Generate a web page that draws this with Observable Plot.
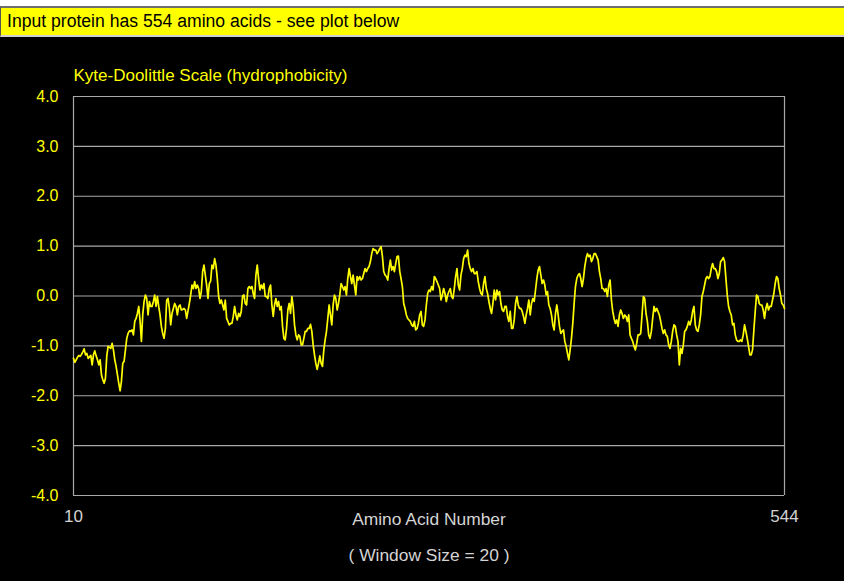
<!DOCTYPE html>
<html>
<head>
<meta charset="utf-8">
<script src="https://cdn.jsdelivr.net/npm/d3@7"></script>
<script src="https://cdn.jsdelivr.net/npm/@observablehq/plot@0.6"></script>
<style>
  html, body { margin: 0; padding: 0; background: #000; width: 844px; height: 581px; overflow: hidden; }
  #top { position: absolute; left: 0; top: 0; width: 844px; height: 37px; background: #fff; }
  #banner { position: absolute; left: 0; top: 6px; width: 843px; height: 27px;
    background: #ffff00; border-top: 2px solid #6e6e6e; border-bottom: 2px solid #cfcfcf; border-left: 1px solid #555;
    font-family: "Liberation Sans", Arial, sans-serif; font-size: 17.6px; line-height: 27px; color: #000;
    padding-left: 6px; box-sizing: content-box; white-space: nowrap; }
  #chart { position: absolute; left: 0; top: 37px; }
</style>
</head>
<body>
<div id="top"><div id="banner"></div></div>
<div id="chart"></div>
<script>
const proteinLength = 554;
const bannerText = "Input protein has " + proteinLength + " amino acids - see plot below";
const chartTitle = "Kyte-Doolittle Scale (hydrophobicity)";
const xTitle = "Amino Acid Number";
const windowNote = "( Window Size = 20 )";
const xTicks = [10, 544];
const yTicks = [-4, -3, -2, -1, 0, 1, 2, 3, 4];
const startResidue = 10;
const hydro = [
-1.25,-1.33,-1.28,-1.23,-1.19,-1.21,-1.17,-1.12,-1.06,-1.18,
-1.15,-1.25,-1.22,-1.19,-1.38,-1.18,-1.10,-1.20,-1.28,-1.38,
-1.28,-1.58,-1.68,-1.75,-1.65,-1.20,-1.01,-1.03,-1.05,-0.95,
-1.08,-1.28,-1.41,-1.58,-1.75,-1.90,-1.71,-1.35,-1.31,-1.08,
-0.85,-0.75,-0.70,-0.71,-0.68,-0.78,-0.51,-0.45,-0.35,-0.21,
-0.50,-0.91,-0.38,-0.11,0.02,-0.05,-0.38,-0.11,-0.21,-0.21,
-0.11,0.02,-0.21,-0.01,-0.21,-0.38,-0.61,-0.75,-0.85,-0.65,
-0.08,-0.05,-0.25,-0.58,-0.35,-0.25,-0.15,-0.21,-0.38,-0.21,
-0.18,-0.28,-0.27,-0.25,-0.28,-0.45,-0.30,-0.15,0.02,0.22,
0.15,0.29,0.15,0.22,0.15,-0.05,0.09,0.49,0.62,0.42,
0.22,-0.05,0.25,0.30,0.62,0.55,0.75,0.62,0.35,-0.01,
-0.15,-0.08,-0.18,-0.28,-0.08,-0.45,-0.51,-0.58,-0.55,-0.55,
-0.41,-0.21,-0.38,-0.48,-0.35,-0.41,-0.31,0.00,0.02,-0.15,
-0.18,0.15,0.19,0.15,0.19,0.05,-0.05,0.42,0.62,0.35,
0.12,0.22,0.15,0.25,-0.01,-0.01,-0.05,0.15,0.22,-0.18,
-0.41,-0.18,-0.05,-0.21,-0.11,-0.28,-0.21,-0.61,-0.85,-0.88,
-0.65,-0.28,-0.15,-0.35,-0.01,-0.21,-0.58,-0.78,-0.88,-0.78,
-0.81,-0.98,-0.98,-0.85,-0.71,-0.71,-0.65,-0.65,-0.57,-0.71,
-0.98,-1.18,-1.35,-1.47,-1.35,-1.20,-1.35,-1.41,-1.08,-0.88,
-0.71,-0.45,-0.18,-0.38,-0.58,-0.18,0.02,-0.05,-0.28,-0.15,
0.02,0.25,0.19,0.12,0.19,0.02,0.35,0.55,0.39,0.25,
0.42,0.22,0.02,0.39,0.32,0.39,0.32,0.35,0.45,0.55,
0.49,0.55,0.59,0.69,0.85,0.95,0.92,0.92,0.85,0.89,
0.95,0.99,0.80,0.49,0.42,0.39,0.32,0.55,0.72,0.52,
0.59,0.49,0.65,0.79,0.80,0.50,0.35,0.19,-0.15,-0.25,
-0.38,-0.45,-0.48,-0.51,-0.58,-0.61,-0.51,-0.68,-0.65,-0.55,
-0.38,-0.31,-0.58,-0.61,-0.48,-0.18,0.05,0.12,0.09,0.19,
0.12,0.39,0.35,0.29,0.22,0.15,-0.08,0.02,0.15,0.05,
-0.11,0.02,0.09,0.15,-0.01,-0.05,0.15,0.39,0.55,0.22,
0.12,0.42,0.55,0.75,0.82,0.79,0.92,0.65,0.55,0.49,
0.55,0.45,0.45,0.49,0.29,0.15,0.05,0.02,0.25,0.39,
0.15,0.05,-0.11,-0.25,-0.35,-0.15,0.12,-0.08,0.12,0.02,
0.09,-0.15,-0.28,-0.31,-0.21,-0.21,-0.41,-0.51,-0.31,-0.65,
-0.65,-0.48,-0.15,-0.01,-0.18,-0.25,-0.25,-0.31,-0.41,-0.55,
-0.38,-0.25,-0.08,-0.38,-0.15,-0.05,-0.11,0.12,0.35,0.52,
0.59,0.42,0.25,0.32,0.22,0.02,0.09,-0.18,-0.25,-0.38,
-0.58,-0.68,-0.35,-0.18,-0.38,-0.61,-0.75,-0.71,-0.68,-0.91,
-1.01,-1.15,-1.28,-1.08,-0.85,-0.55,-0.15,0.19,0.35,0.42,
0.45,0.35,0.19,0.35,0.59,0.75,0.85,0.79,0.82,0.69,
0.75,0.85,0.85,0.79,0.72,0.49,0.35,0.15,0.15,0.09,
0.15,-0.01,0.22,0.32,-0.08,-0.31,-0.45,-0.55,-0.48,-0.61,
-0.38,-0.28,-0.35,-0.45,-0.38,-0.41,-0.51,-0.38,-0.78,-0.85,
-0.91,-1.01,-1.08,-0.95,-0.78,-0.78,-0.75,-0.38,-0.01,-0.05,
-0.35,-0.51,-0.78,-0.85,-0.71,-0.45,-0.21,-0.31,-0.25,-0.31,
-0.38,-0.51,-0.65,-0.75,-0.68,-0.78,-0.81,-0.98,-1.05,-0.91,
-0.71,-0.58,-0.61,-0.78,-0.91,-1.38,-1.05,-1.15,-0.98,-0.71,
-0.68,-0.61,-0.51,-0.58,-0.48,-0.31,-0.21,-0.58,-0.68,-0.71,
-0.58,-0.38,-0.01,0.09,0.22,0.35,0.39,0.35,0.39,0.55,
0.65,0.55,0.55,0.49,0.35,0.45,0.69,0.72,0.77,0.69,
0.35,0.02,-0.21,-0.31,-0.38,-0.58,-0.55,-0.78,-0.88,-0.91,
-0.91,-0.88,-0.91,-0.78,-0.58,-0.71,-0.85,-1.01,-1.18,-1.18,
-1.08,-0.68,-0.31,0.02,-0.01,-0.15,-0.18,-0.18,-0.28,-0.45,
-0.25,-0.15,-0.28,-0.21,-0.21,-0.08,0.05,0.25,0.39,0.35,
0.15,0.02,-0.15,-0.18,-0.25
];

document.getElementById("banner").textContent = bannerText;

const data = hydro.map((v, i) => ({residue: startResidue + i, value: v}));
const gridColor = "#a8a8a8";
const yellow = "#ffff00";
const labelGray = "#d4d4d4";

const chart = Plot.plot({
  width: 844,
  height: 544,
  marginTop: 59,
  marginBottom: 86,
  marginLeft: 73,
  marginRight: 60,
  style: {background: "#000", fontFamily: "'Liberation Sans', Arial, sans-serif", fontSize: "16px", overflow: "visible"},
  x: {domain: [xTicks[0], xTicks[1]]},
  y: {domain: [yTicks[0], yTicks[yTicks.length - 1]]},
  marks: [
    Plot.ruleY(yTicks, {stroke: gridColor, strokeWidth: 1.2}),
    Plot.ruleX(xTicks, {stroke: gridColor, strokeWidth: 1.2}),
    Plot.line(data, {x: "residue", y: "value", stroke: yellow, strokeWidth: 1.7}),
    Plot.axisY({ticks: yTicks, tickSize: 0, tickPadding: 15, tickFormat: d => d.toFixed(1), fill: yellow, label: null, fontSize: 16}),
    Plot.axisX({ticks: xTicks, tickSize: 0, tickPadding: 14, tickFormat: d => String(d), fill: labelGray, label: null, fontSize: 17}),
    Plot.text([chartTitle], {frameAnchor: "top-left", textAnchor: "start", lineAnchor: "middle", dy: -21, fill: yellow, fontSize: 17}),
    Plot.text([xTitle], {frameAnchor: "bottom", lineAnchor: "middle", dy: 24, fill: labelGray, fontSize: 17.4}),
    Plot.text([windowNote], {frameAnchor: "bottom", lineAnchor: "middle", dy: 60, fill: labelGray, fontSize: 17.4})
  ]
});
document.getElementById("chart").appendChild(chart);
</script>
</body>
</html>
